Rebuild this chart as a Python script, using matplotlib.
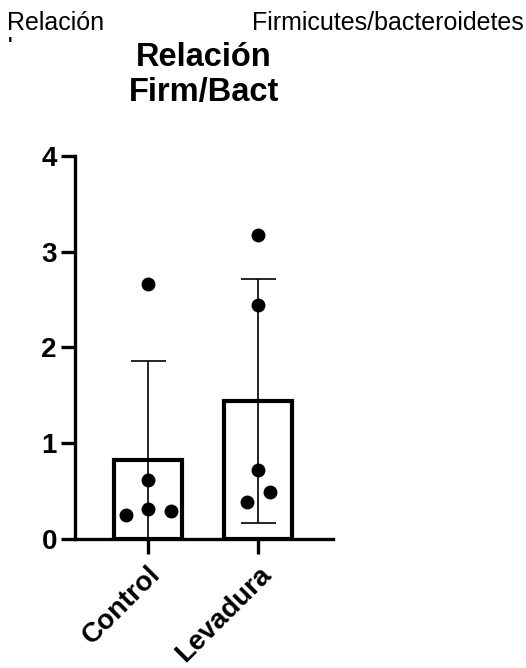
import matplotlib.pyplot as plt
import numpy as np

plt.rcParams['font.family'] = ['Liberation Sans', 'DejaVu Sans']

# data
groups = ["Control", "Levadura"]
control_vals = [2.66, 0.62, 0.31, 0.25, 0.29]
levadura_vals = [3.17, 2.44, 0.72, 0.39, 0.49]
control_jitter = [0.0, 0.0, 0.0, -0.2, 0.21]
levadura_jitter = [0.0, 0.0, 0.0, -0.1, 0.11]
yticks = [0, 1, 2, 3, 4]

values = [control_vals, levadura_vals]
jitters = [control_jitter, levadura_jitter]
means = [np.mean(v) for v in values]
sds = [np.std(v, ddof=1) for v in values]

fig = plt.figure(figsize=(5.26, 6.68), dpi=100)
ax = fig.add_axes([0.1426, 0.193, 0.491, 0.574])

x = np.arange(len(groups))

# bars
ax.bar(x, means, width=0.62, color="white", edgecolor="black", linewidth=3, zorder=2)

# error bars (mean +/- SD)
ax.errorbar(x, means, yerr=sds, fmt="none", ecolor="black", elinewidth=1.2,
            capsize=12.6, capthick=1.2, zorder=3)

# individual points
for i, (vals, jit) in enumerate(zip(values, jitters)):
    ax.plot(x[i] + np.array(jit), vals, "o", color="black", markersize=9, zorder=4,
            clip_on=False)

ax.set_xlim(-0.66, 1.68)
ax.set_ylim(0, 4)
ax.set_yticks(yticks)
ax.set_xticks(x)
ax.set_xticklabels(groups, rotation=45, ha="right", rotation_mode="anchor",
                   fontsize=20, fontweight="bold")
ax.tick_params(axis="y", labelsize=20, width=2.4, length=10, pad=3)
ax.tick_params(axis="x", width=2.4, length=11, pad=5)
for lab in ax.get_yticklabels():
    lab.set_fontweight("bold")

for side in ["top", "right"]:
    ax.spines[side].set_visible(False)
for side in ["left", "bottom"]:
    ax.spines[side].set_linewidth(2.4)

ax.set_title("Relación\nFirm/Bact", fontsize=23.5, fontweight="bold", pad=39,
             linespacing=1.2)

# header texts
fig.text(7 / 526, 1 - 30 / 668, "Relación", fontsize=18)
fig.text(252 / 526, 1 - 30 / 668, "Firmicutes/bacteroidetes", fontsize=18)
fig.text(8 / 526, 1 - 37 / 668, "'", fontsize=14, fontweight="bold", va="top")

fig.savefig("out.png", dpi=100)
